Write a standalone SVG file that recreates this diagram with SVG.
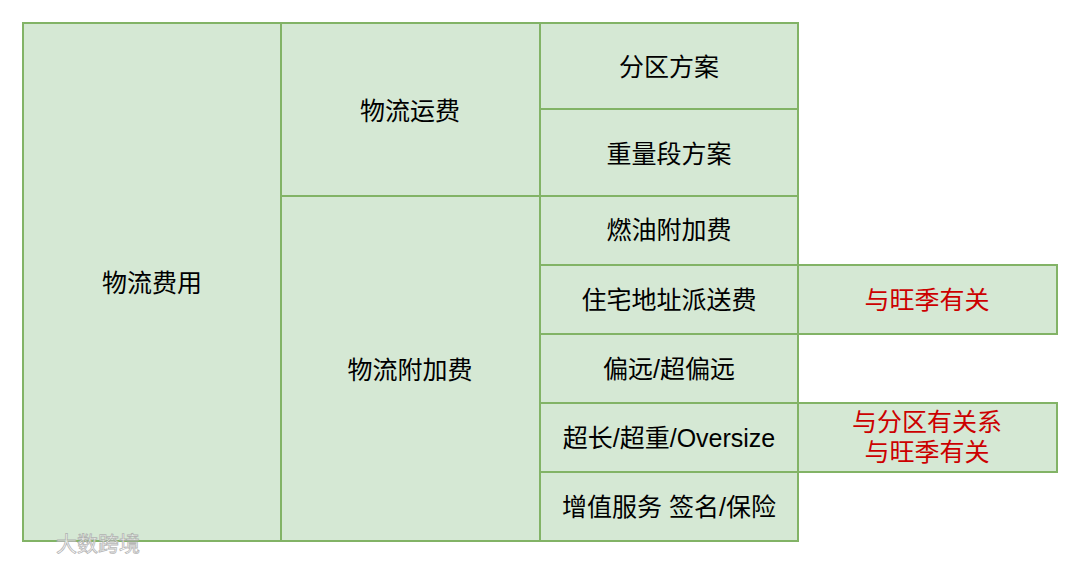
<svg xmlns="http://www.w3.org/2000/svg" width="1080" height="563" viewBox="0 0 1080 563">
<style>
.c{fill:#d5e8d4;stroke:#82b366;stroke-width:2}
.t{font-family:"Liberation Sans","Noto Sans CJK SC",sans-serif;font-size:25px;fill:#000;text-anchor:middle;dominant-baseline:central}
.r{fill:#cc0000}
.w{font-family:"Noto Sans CJK SC",sans-serif;font-size:21px;fill:#fff;stroke:#aaa;stroke-width:0.8;opacity:0.85}
</style>
<rect width="1080" height="563" fill="#fff"/>
<g id="n-wlfy"><rect class="c" x="23" y="23" width="258" height="518"/><text class="t" x="152" y="283">物流费用</text></g>
<g id="n-wlyf"><rect class="c" x="281" y="23" width="259" height="173"/><text class="t" x="410" y="111">物流运费</text></g>
<g id="n-wlfjf"><rect class="c" x="281" y="196" width="259" height="345"/><text class="t" x="410" y="370">物流附加费</text></g>
<g id="n-fqfa"><rect class="c" x="540" y="23" width="258" height="86"/><text class="t" x="669" y="67">分区方案</text></g>
<g id="n-zldfa"><rect class="c" x="540" y="109" width="258" height="87"/><text class="t" x="669" y="154">重量段方案</text></g>
<g id="n-rjfjf"><rect class="c" x="540" y="196" width="258" height="69"/><text class="t" x="669" y="230">燃油附加费</text></g>
<g id="n-zzps"><rect class="c" x="540" y="265" width="258" height="69"/><text class="t" x="669" y="300">住宅地址派送费</text></g>
<g id="n-pianyuan"><rect class="c" x="540" y="334" width="258" height="69"/><text class="t" x="669" y="369">偏远/超偏远</text></g>
<g id="n-chaochang"><rect class="c" x="540" y="403" width="258" height="69"/><text class="t" x="669" y="438">超长/超重/Oversize</text></g>
<g id="n-zengzhi"><rect class="c" x="540" y="472" width="258" height="69"/><text class="t" x="669" y="507">增值服务 签名/保险</text></g>
<g id="n-note1"><rect class="c" x="798" y="265" width="259" height="69"/><text class="t r" x="927" y="300">与旺季有关</text></g>
<g id="n-note2"><rect class="c" x="798" y="403" width="259" height="69"/><text class="t r" x="927" y="422">与分区有关系</text><text class="t r" x="927" y="452">与旺季有关</text></g>
<g id="connectors"></g>
<text class="w" x="56" y="551">大数跨境</text>
</svg>
